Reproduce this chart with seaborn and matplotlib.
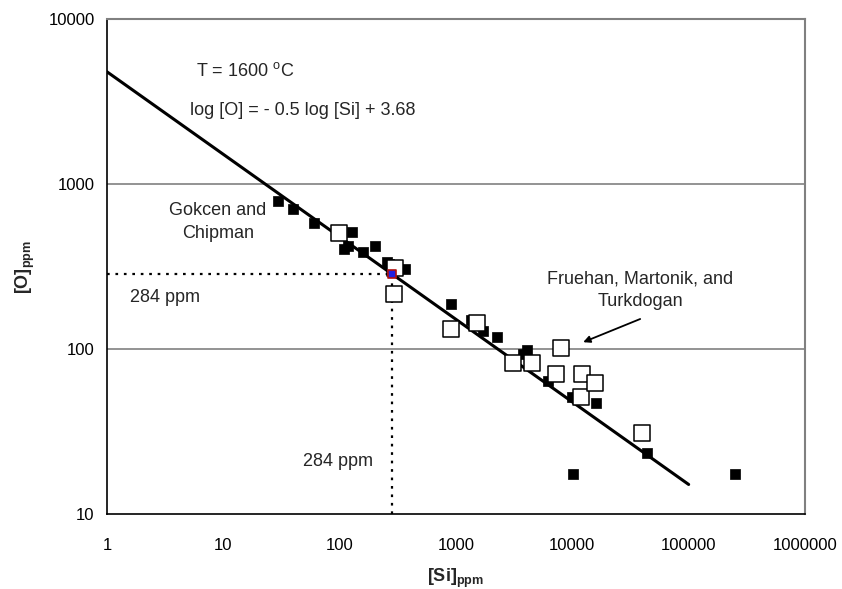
import numpy as np
import pandas as pd
import matplotlib.pyplot as plt
import seaborn as sns

# Gokcen and Chipman (filled) and Fruehan, Martonik and Turkdogan (open)
filled_si = [29.7, 39.5, 60, 108, 117, 128, 160, 201, 254, 265, 365,
             900, 1340, 1420, 1700, 2270, 3800, 4110, 6150, 9960, 10200,
             16000, 43700, 250000]
filled_o = [790, 705, 578, 402, 421, 514, 387, 421, 338, 328, 305,
            187, 150, 144, 129, 119, 93, 98, 64, 51, 17.5,
            47, 23.5, 17.5]
open_si = [99.4, 301, 295, 900, 1510, 3080, 4540, 7260, 8010, 12000,
           11900, 15600, 39600]
open_o = [502, 308, 215, 133, 143, 82, 82, 71, 101, 71,
          51, 62, 31]
fit_si = [1, 100000]
fit_o = [4786, 15.1]
point_si = [284]
point_o = [284]

sns.set_style("white")
plt.rcParams['font.family'] = ['Liberation Sans', 'DejaVu Sans']
plt.rcParams['mathtext.fontset'] = 'custom'
plt.rcParams['mathtext.rm'] = 'Liberation Sans'
plt.rcParams['mathtext.bf'] = 'Liberation Sans:bold'

fig = plt.figure(figsize=(8.42, 5.89), dpi=100)
ax = fig.add_axes([107 / 842, 1 - 514 / 589, 698 / 842, 495 / 589])

filled = pd.DataFrame({"Si": filled_si, "O": filled_o})
opened = pd.DataFrame({"Si": open_si, "O": open_o})
fit = pd.DataFrame({"Si": fit_si, "O": fit_o})

# dotted guides at 284 ppm
ax.plot([1, point_si[0]], [point_o[0], point_o[0]], color="black",
        lw=1.6, ls=(0, (1.2, 2.6)), zorder=2)
ax.plot([point_si[0], point_si[0]], [10, point_o[0]], color="black",
        lw=1.6, ls=(0, (1.2, 2.6)), zorder=2)

sns.lineplot(data=fit, x="Si", y="O", color="black", lw=2.2, ax=ax,
             zorder=3)
sns.scatterplot(data=filled, x="Si", y="O", marker="s", s=55,
                color="black", edgecolor="black", linewidth=0.5, ax=ax,
                zorder=4)
sns.scatterplot(data=opened, x="Si", y="O", marker="s", s=125,
                facecolor="white", edgecolor="black", linewidth=1.1,
                ax=ax, zorder=5)
ax.scatter(point_si, point_o, marker="s", s=30, color="#2020e0",
           edgecolor="#b01010", linewidth=1.2, zorder=6)

ax.set_xscale("log")
ax.set_yscale("log")
ax.set_xlim(1, 1000000)
ax.set_ylim(10, 10000)

xt = [1, 10, 100, 1000, 10000, 100000, 1000000]
yt = [10, 100, 1000, 10000]
ax.set_xticks(xt)
ax.set_xticklabels([str(v) for v in xt])
ax.set_yticks(yt)
ax.set_yticklabels([str(v) for v in yt])
ax.minorticks_off()
ax.tick_params(axis="both", direction="out", length=5, width=1,
               color="black", labelsize=12, labelcolor="black")
ax.tick_params(axis="x", pad=12)
ax.tick_params(axis="y", pad=4)

for v in [100, 1000]:
    ax.axhline(v, color="#808080", lw=1.2, zorder=1)

for side in ["left", "bottom"]:
    ax.spines[side].set_color("black")
    ax.spines[side].set_linewidth(1.2)
for side in ["top", "right"]:
    ax.spines[side].set_color("#808080")
    ax.spines[side].set_linewidth(1.5)

ax.set_xlabel(r"[Si]$_{\mathbf{ppm}}$", fontsize=13, fontweight="bold",
              labelpad=10)
ax.set_ylabel(r"[O]$_{\mathbf{ppm}}$", fontsize=13, fontweight="bold",
              labelpad=8)

ax.text(5.8, 4840, r"T = 1600 $^{\mathregular{o}}$C", fontsize=13,
        va="center", ha="left")
ax.text(5.2, 2800, "log [O] = - 0.5 log [Si] + 3.68", fontsize=13,
        va="center", ha="left")
ax.text(9.0, 589, "Gokcen and\nChipman", fontsize=13, va="center",
        ha="center", linespacing=1.4)
ax.text(3.15, 204, "284 ppm", fontsize=13, va="center", ha="center")
ax.text(96.9, 20.7, "284 ppm", fontsize=13, va="center", ha="center")
ax.text(38300, 228, "Fruehan, Martonik, and\nTurkdogan", fontsize=13,
        va="center", ha="center", linespacing=1.4)
ax.annotate("", xy=(12400, 110), xytext=(38300, 152),
            arrowprops=dict(arrowstyle="-|>", color="black", lw=1.3,
                            mutation_scale=10, shrinkA=0, shrinkB=0))

fig.savefig("out.png", dpi=100)
